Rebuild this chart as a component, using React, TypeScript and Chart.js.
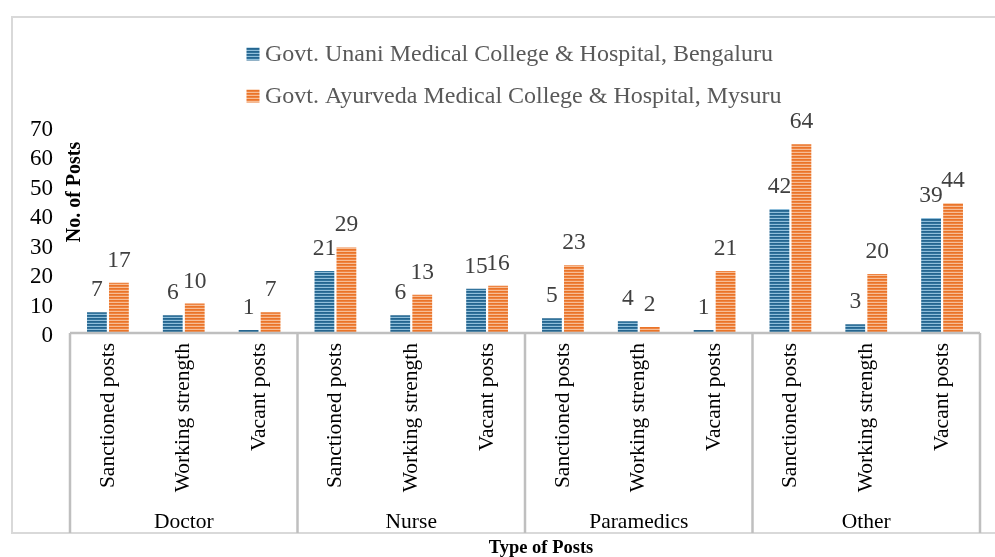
import React, { useEffect, useRef } from "react";
import { Chart, registerables } from "chart.js";

Chart.register(...registerables);

const seriesNames = [
  "Govt. Unani Medical College & Hospital, Bengaluru",
  "Govt. Ayurveda Medical College & Hospital, Mysuru",
];
const groupLabels = ["Doctor", "Nurse", "Paramedics", "Other"];
const categoryLabels = [
  "Sanctioned posts", "Working strength", "Vacant posts",
  "Sanctioned posts", "Working strength", "Vacant posts",
  "Sanctioned posts", "Working strength", "Vacant posts",
  "Sanctioned posts", "Working strength", "Vacant posts",
];
const unaniValues = [7, 6, 1, 21, 6, 15, 5, 4, 1, 42, 3, 39];
const ayurvedaValues = [17, 10, 7, 29, 13, 16, 23, 2, 21, 64, 20, 44];
const yMin = 0;
const yMax = 70;
const yStep = 10;
const xTitle = "Type of Posts";
const yTitle = "No. of Posts";

const SERIF = "'Liberation Serif', 'Times New Roman', serif";

function makeStripes(dark: string, mid: string, light: string): CanvasPattern | string {
  const c = document.createElement("canvas");
  c.width = 1;
  c.height = 3;
  const g = c.getContext("2d");
  if (!g) return dark;
  g.fillStyle = dark;
  g.fillRect(0, 0, 1, 1);
  g.fillStyle = mid;
  g.fillRect(0, 1, 1, 1);
  g.fillStyle = light;
  g.fillRect(0, 2, 1, 1);
  const p = g.createPattern(c, "repeat");
  return p || dark;
}

export default function App() {
  const ref = useRef<HTMLCanvasElement | null>(null);

  useEffect(() => {
    document.body.style.margin = "0";
    document.body.style.overflow = "hidden";
    const canvas = ref.current;
    if (!canvas) return;
    const bluePat = makeStripes("#25658f", "#32749d", "#90bfdb");
    const orangePat = makeStripes("#ea7428", "#ee8442", "#f7bd95");

    const decor = {
      id: "decor",
      beforeDraw(chart: any) {
        const ctx = chart.ctx;
        ctx.save();
        ctx.fillStyle = "#ffffff";
        ctx.fillRect(0, 0, chart.width, chart.height);
        ctx.restore();
      },
      afterDatasetsDraw(chart: any) {
        const ctx = chart.ctx;
        ctx.save();
        ctx.font = `23.5px ${SERIF}`;
        ctx.fillStyle = "#404040";
        ctx.textAlign = "center";
        ctx.textBaseline = "alphabetic";
        chart.data.datasets.forEach((ds: any, di: number) => {
          const meta = chart.getDatasetMeta(di);
          meta.data.forEach((bar: any, i: number) => {
            ctx.fillText(String(ds.data[i]), bar.x, bar.y - 16);
          });
        });
        ctx.restore();
      },
      afterDraw(chart: any) {
        const ctx = chart.ctx;
        const area = chart.chartArea;
        const xs = chart.scales.x;
        const n = categoryLabels.length;
        const catW = (area.right - area.left) / n;
        const tableBottom = 533;
        ctx.save();
        // outer border
        ctx.strokeStyle = "#d9d9d9";
        ctx.lineWidth = 2;
        ctx.strokeRect(12, 17, 1000, tableBottom - 17);
        // axis line
        ctx.strokeStyle = "#bfbfbf";
        ctx.lineWidth = 2.5;
        ctx.beginPath();
        ctx.moveTo(area.left, area.bottom);
        ctx.lineTo(area.right, area.bottom);
        ctx.stroke();
        // group boundaries
        for (let g = 0; g <= groupLabels.length; g++) {
          const idx = g * 3;
          const x = idx < n ? xs.getPixelForValue(idx) - catW / 2 : xs.getPixelForValue(n - 1) + catW / 2;
          ctx.beginPath();
          ctx.moveTo(x, area.bottom);
          ctx.lineTo(x, tableBottom);
          ctx.stroke();
        }
        // group labels
        ctx.font = `21.5px ${SERIF}`;
        ctx.fillStyle = "#000000";
        ctx.textAlign = "center";
        ctx.textBaseline = "middle";
        groupLabels.forEach((lab, g) => {
          const x0 = xs.getPixelForValue(g * 3) - catW / 2;
          const x1 = xs.getPixelForValue(g * 3 + 2) + catW / 2;
          ctx.fillText(lab, (x0 + x1) / 2, 522);
        });
        // x title
        ctx.font = `bold 18.5px ${SERIF}`;
        ctx.fillText(xTitle, 541, 548);
        // y title
        ctx.save();
        ctx.translate(75, 192);
        ctx.rotate(-Math.PI / 2);
        ctx.font = `bold 20px ${SERIF}`;
        ctx.fillText(yTitle, 0, 0);
        ctx.restore();
        // legend
        const pats = [bluePat, orangePat];
        const rowsY = [54, 96];
        ctx.font = `24px ${SERIF}`;
        ctx.textAlign = "left";
        ctx.textBaseline = "middle";
        chart.data.datasets.forEach((ds: any, di: number) => {
          const y = rowsY[di];
          ctx.fillStyle = pats[di];
          ctx.fillRect(246.5, y - 6.5, 13, 13);
          ctx.fillStyle = "#595959";
          ctx.fillText(ds.label, 265, y + 1);
        });
        ctx.restore();
      },
    };

    const chart = new Chart(canvas, {
      type: "bar",
      data: {
        labels: categoryLabels,
        datasets: [
          {
            label: seriesNames[0],
            data: unaniValues,
            backgroundColor: bluePat as any,
            categoryPercentage: 0.58,
            barPercentage: 0.9,
          },
          {
            label: seriesNames[1],
            data: ayurvedaValues,
            backgroundColor: orangePat as any,
            categoryPercentage: 0.58,
            barPercentage: 0.9,
          },
        ],
      },
      options: {
        responsive: false,
        animation: false,
        events: [],
        layout: { padding: { left: 12, right: 15, top: 126.5, bottom: 0 } },
        plugins: {
          legend: { display: false },
          tooltip: { enabled: false },
        },
        scales: {
          x: {
            offset: true,
            grid: { display: false, drawTicks: false },
            border: { display: false },
            ticks: {
              autoSkip: false,
              minRotation: 90,
              maxRotation: 90,
              padding: 10,
              color: "#000000",
              font: { family: SERIF, size: 21.5 },
            },
            afterFit: (s: any) => {
              s.height = 557 - 333;
            },
          },
          y: {
            min: yMin,
            max: yMax,
            grid: { display: false, drawTicks: false },
            border: { display: false },
            ticks: {
              autoSkip: false,
              stepSize: yStep,
              padding: 17,
              labelOffset: 3,
              color: "#000000",
              font: { family: SERIF, size: 23 },
            },
            afterFit: (s: any) => {
              s.width = 58;
            },
          },
        },
      },
      plugins: [decor],
    });
    return () => chart.destroy();
  }, []);

  return <canvas ref={ref} width={995} height={557} style={{ display: "block" }} />;
}
